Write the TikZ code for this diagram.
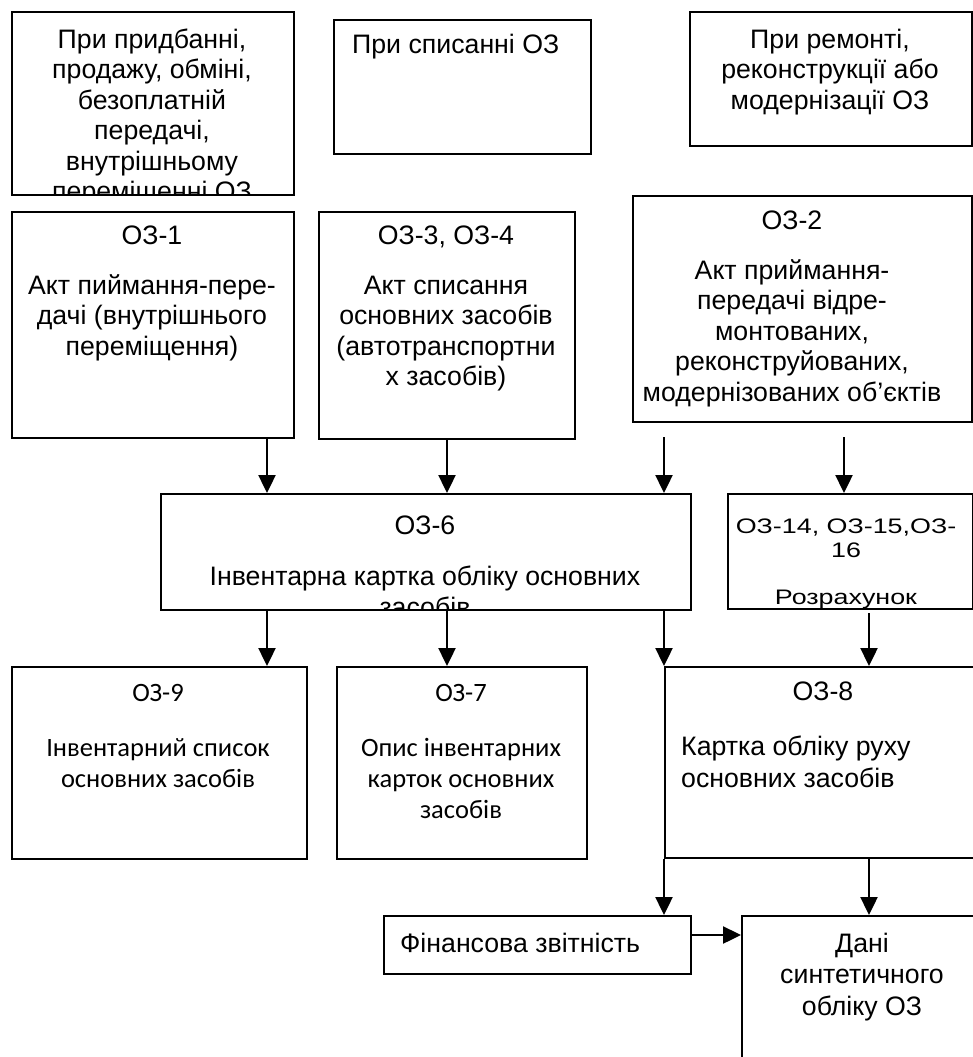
\documentclass[tikz,border=0pt]{standalone}
\usepackage{fontspec}
\setmainfont{Liberation Sans}
\newfontfamily\calfont{Carlito}
\newfontfamily\widefont[FakeStretch=1.28]{Liberation Sans}
\usetikzlibrary{arrows.meta}
\begin{document}
\begin{tikzpicture}[x=1pt,y=-1pt,
  box/.style={draw,line width=1.6pt,inner sep=0pt,anchor=north west},
  txt/.style={inner sep=0pt,align=center,anchor=base,font=\fontsize{26.7}{30.5}\selectfont},
  txtl/.style={inner sep=0pt,align=left,anchor=base west,font=\fontsize{26.7}{30.5}\selectfont},
  small/.style={inner sep=0pt,align=center,anchor=base,font=\widefont\fontsize{21}{24}\selectfont},
  cal/.style={inner sep=0pt,align=center,anchor=base,font=\calfont\fontsize{26.5}{31}\selectfont},
  arr/.style={line width=2.4pt,-{Triangle[length=18pt,width=17pt]}}]
\useasboundingbox (0,0) rectangle (973,1057);
\clip (0,0) rectangle (973,1057);

% boxes
\node[box,minimum width=282pt,minimum height=183pt] (buy) at (11,11) {};
\node[box,minimum width=257pt,minimum height=134pt] (wrt) at (333,19) {};
\node[box,minimum width=282pt,minimum height=134pt] (rep) at (689,11) {};
\node[box,minimum width=282pt,minimum height=226pt] (oz1) at (11,211) {};
\node[box,minimum width=256pt,minimum height=227pt] (oz3) at (318,211) {};
\node[box,minimum width=339pt,minimum height=226pt] (oz2) at (632,195) {};
\node[box,minimum width=530pt,minimum height=116pt] (oz6) at (160,493) {};
\node[box,minimum width=245pt,minimum height=115pt] (oz14) at (727,493) {};
\node[box,minimum width=295pt,minimum height=192pt] (oz9) at (11,666) {};
\node[box,minimum width=250pt,minimum height=192pt] (oz7) at (336,666) {};
\node[box,minimum width=330pt,minimum height=191pt] (oz8) at (664,666) {};
\node[box,minimum width=307pt,minimum height=58pt] (fin) at (383,915) {};
\node[box,minimum width=260pt,minimum height=160pt] (dani) at (741,915) {};

% texts (base anchor = baseline of the last line)
\begin{scope}
\clip (buy.north west) rectangle (buy.south east);
\node[txt] (buyt) at (152,200.5) {При придбанні,\\продажу, обміні,\\безоплатній\\передачі,\\внутрішньому\\переміщенні ОЗ};
\end{scope}
\node[txtl] (wrtt) at (352,53) {При списанні ОЗ};
\node[txt] (rept) at (830,109) {При ремонті,\\реконструкції або\\модернізації ОЗ};

\node[txt] (oz1a) at (152,244) {ОЗ-1};
\node[txt] (oz1b) at (152,355) {Акт пиймання-пере-\\дачі (внутрішнього\\переміщення)};
\node[txt] (oz3a) at (446,244) {ОЗ-3, ОЗ-4};
\node[txt] (oz3b) at (446,385.5) {Акт списання\\основних засобів\\(автотранспортни\\х засобів)};
\node[txt] (oz2a) at (792,229) {ОЗ-2};
\node[txt] (oz2b) at (792,401) {Акт приймання-\\передачі відре-\\монтованих,\\реконструйованих,\\модернізованих об’єктів};

\begin{scope}
\clip (oz6.north west) rectangle (oz6.south east);
\node[txt] (oz6a) at (425,534) {ОЗ-6};
\node[txt] (oz6b) at (425,616) {Інвентарна картка обліку основних\\засобів};
\end{scope}
\begin{scope}
\clip (oz14.north west) rectangle (oz14.south east);
\node[small] (oz14a) at (846,557) {ОЗ-14, ОЗ-15,ОЗ-\\16};
\node[small] (oz14b) at (846,604) {Розрахунок};
\end{scope}

\node[cal] (oz9a) at (158,701) {ОЗ-9};
\node[cal] (oz9b) at (158,787) {Інвентарний список\\основних засобів};
\node[cal] (oz7a) at (461,701) {ОЗ-7};
\node[cal] (oz7b) at (461,818) {Опис інвентарних\\карток основних\\засобів};
\node[txt] (oz8a) at (823,700) {ОЗ-8};
\node[txtl,font=\fontsize{26.7}{32}\selectfont] (oz8b) at (681,787) {Картка обліку руху\\основних засобів};
\node[txtl] (fint) at (400,952) {Фінансова звітність};
\node[txt,font=\fontsize{26.7}{31.5}\selectfont] (danit) at (862,1015) {Дані\\синтетичного\\обліку ОЗ};

% connectors
\coordinate (c1) at (267,0);
\coordinate (c2) at (447,0);
\coordinate (c3) at (664,0);
\coordinate (c4) at (844,0);
\coordinate (c5) at (869,0);
\coordinate (s3) at (664,437);
\coordinate (s4) at (844,437);
\coordinate (s5) at (869,613);
\draw[arr] (oz1.south -| c1) -- (oz6.north -| c1);
\draw[arr] (oz3.south -| c2) -- (oz6.north -| c2);
\draw[arr] (s3) -- (oz6.north -| c3);
\draw[arr] (s4) -- (oz14.north -| c4);
\draw[arr] (oz6.south -| c1) -- (oz9.north -| c1);
\draw[arr] (oz6.south -| c2) -- (oz7.north -| c2);
\draw[arr] (oz6.south -| c3) -- (oz8.north -| c3);
\draw[arr] (s5) -- (oz8.north -| c5);
\draw[arr] (oz8.south -| c3) -- (fin.north -| c3);
\draw[arr] (oz8.south -| c5) -- (dani.north -| c5);
\coordinate (c6) at (0,935);
\draw[arr] (fin.east |- c6) -- (dani.west |- c6);
\end{tikzpicture}
\end{document}
